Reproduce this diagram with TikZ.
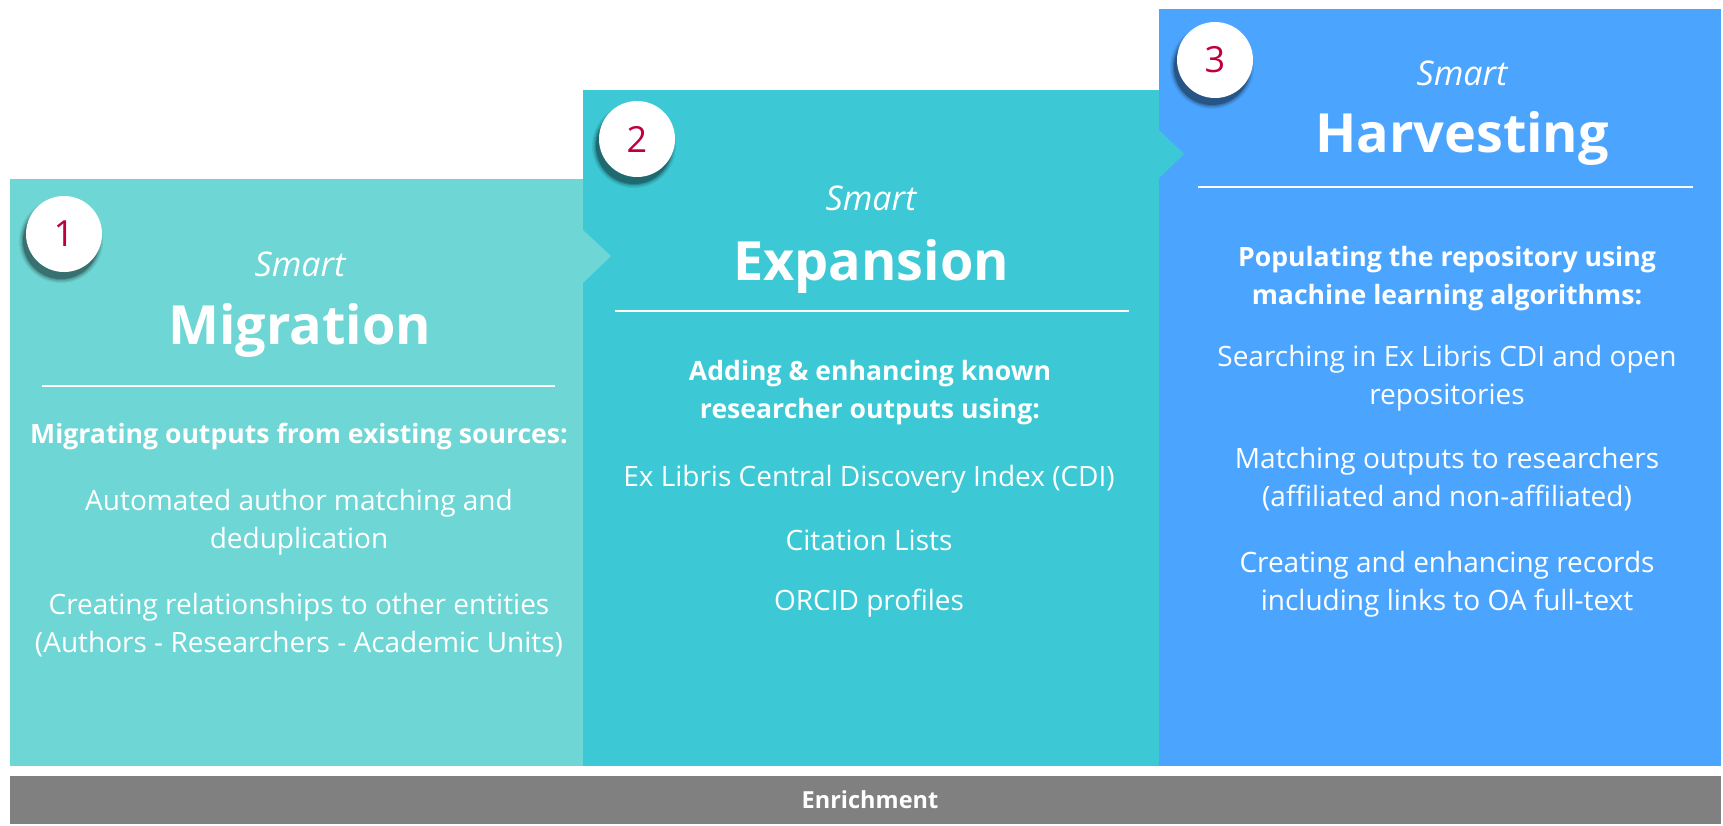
\documentclass[tikz,border=0pt]{standalone}
\usepackage{fontspec}
\setmainfont{Open Sans}
\definecolor{migr}{HTML}{6ED6D5}
\definecolor{expa}{HTML}{3CC9D5}
\definecolor{harv}{HTML}{4BA5FF}
\definecolor{numc}{HTML}{C0003C}
\definecolor{enri}{HTML}{808080}
\tikzset{
  smart/.style={text=white,font=\fontsize{34}{40}\selectfont\itshape},
  title/.style={text=white,font=\fontsize{54}{60}\selectfont\bfseries},
  lead/.style={text=white,align=center,font=\fontsize{26.6}{38}\selectfont\bfseries},
  item/.style={text=white,align=center,font=\fontsize{28}{38}\selectfont},
  badge/.style={circle,fill=white,minimum size=76pt,inner sep=0pt,text=numc,font=\fontsize{36}{40}\selectfont},
  rule/.style={white,line width=1.5pt},
}
\newcommand\badgeat[4]{%
  \foreach \r/\o in {42/0.08,40.5/0.12,39/0.16,38/0.22}{\fill[black,opacity=\o] (#2-3,#3+7) circle[radius=\r pt];}
  \node[badge] (#1) at (#2,#3) {#4};}
\begin{document}
\begin{tikzpicture}[x=1pt,y=-1pt]
\useasboundingbox (0,0) rectangle (1723,825);
\fill[migr] (10,179) rectangle (583,766);
\fill[expa] (583,90) rectangle (1159,766);
\fill[harv] (1159,9) rectangle (1721,766);
\fill[migr] (583,230)--(611,256)--(583,283)--cycle;
\fill[expa] (1159,130)--(1184,154)--(1159,178)--cycle;
\fill[enri] (10,776) rectangle (1721,824);
\node[font=\fontsize{23.5}{26}\selectfont\bfseries,text=white] (enr) at (870,800) {Enrichment};

\badgeat{n1}{64}{234}{1}
\badgeat{n2}{637}{139}{2}
\badgeat{n3}{1215}{60}{3}

\node[smart] (s1) at (300,264) {Smart};
\node[title] (t1) at (300,330) {Migration};
\draw[rule] (42,386)--(555,386);
\node[lead] (l1) at (299,437) {Migrating outputs from existing sources:};
\node[item] (a1) at (299,522) {Automated author matching and\\deduplication};
\node[item] (b1) at (299,625) {Creating relationships to other entities\\(Authors - Researchers - Academic Units)};

\node[smart] (s2) at (871,198) {Smart};
\node[title] (t2) at (871,266) {Expansion};
\draw[rule] (615,311)--(1129,311);
\node[lead] (l2) at (870,393) {Adding \& enhancing known\\researcher outputs using:};
\node[item] (a2) at (869,479) {Ex Libris Central Discovery Index (CDI)};
\node[item] (b2) at (869,540) {Citation Lists};
\node[item] (c2) at (869,603) {ORCID profiles};

\node[smart] (s3) at (1462,73) {Smart};
\node[title] (t3) at (1462,138) {Harvesting};
\draw[rule] (1198,187)--(1693,187);
\node[lead] (l3) at (1447,279) {Populating the repository using\\machine learning algorithms:};
\node[item] (a3) at (1447,378) {Searching in Ex Libris CDI and open\\repositories};
\node[item] (b3) at (1447,479) {Matching outputs to researchers\\(affiliated and non-affiliated)};
\node[item] (c3) at (1447,584) {Creating and enhancing records\\including links to OA full-text};
\end{tikzpicture}
\end{document}
